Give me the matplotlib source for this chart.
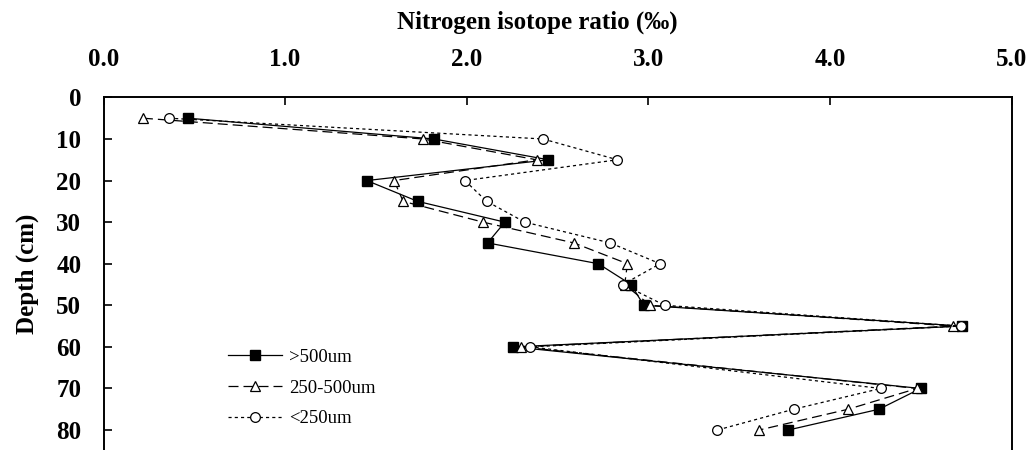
import matplotlib
matplotlib.use("Agg")
import matplotlib.pyplot as plt

depth = [5, 10, 15, 20, 25, 30, 35, 40, 45, 50, 55, 60, 70, 75, 80]
coarse = [0.465, 1.82, 2.45, 1.45, 1.73, 2.21, 2.115, 2.725, 2.905, 2.975, 4.73, 2.256, 4.50, 4.27, 3.77]
medium = [0.217, 1.76, 2.385, 1.60, 1.65, 2.09, 2.59, 2.885, 2.87, 3.01, 4.68, 2.297, 4.48, 4.10, 3.61]
fine = [0.36, 2.42, 2.83, 1.99, 2.11, 2.32, 2.79, 3.065, 2.86, 3.09, 4.72, 2.35, 4.28, 3.80, 3.38]
labels = [">500um", "250-500um", "<250um"]
xticks = [0, 1, 2, 3, 4, 5]
xticklabels = ["0.0", "1.0", "2.0", "3.0", "4.0", "5.0"]
yticks = [0, 10, 20, 30, 40, 50, 60, 70, 80]

plt.rcParams['font.family'] = ['Liberation Serif', 'DejaVu Serif']

W, H = 1033, 450
fig = plt.figure(figsize=(W / 100, H / 100), dpi=100)
ax = fig.add_axes([103.5 / W, 0.0, (1011.5 - 103.5) / W, (450 - 97.4) / H])

ax.plot(coarse, depth, color='black', lw=0.9, ls='-', marker='s', ms=7,
        mfc='black', mec='black', label=labels[0])
ax.plot(medium, depth, color='black', lw=0.9, ls=(0, (8, 4)), marker='^', ms=7,
        mfc='white', mec='black', mew=0.9, label=labels[1])
ax.plot(fine, depth, color='black', lw=0.9, ls=(0, (2.5, 2.5)), marker='o', ms=7,
        mfc='white', mec='black', mew=0.9, label=labels[2])

ax.set_xlim(0, 5)
ax.set_ylim(84.8, 0)
ax.set_xticks(xticks)
ax.set_xticklabels(xticklabels)
ax.set_yticks(yticks)
ax.xaxis.tick_top()
ax.xaxis.set_label_position('top')
ax.tick_params(axis='x', direction='in', length=6, width=1.2, pad=19,
               labelsize=18, top=True, bottom=False)
ax.tick_params(axis='y', direction='in', length=5.5, width=1.2, pad=16,
               labelsize=18, right=False)
for lab in ax.get_xticklabels() + ax.get_yticklabels():
    lab.set_fontweight('bold')

ax.set_xlabel("Nitrogen isotope ratio (\u2030)", fontsize=18, fontweight='bold', labelpad=14)
ax.xaxis.label.set_x(0.478)
ax.set_ylabel("Depth (cm)", fontsize=18, fontweight='bold', labelpad=12)

for s in ['top', 'left', 'right']:
    ax.spines[s].set_linewidth(1.4)
ax.spines['bottom'].set_visible(False)

leg = ax.legend(loc='upper left', bbox_to_anchor=(0.118, 0.335), frameon=False,
                fontsize=13.5, handlelength=2.9, labelspacing=0.72, handletextpad=0.4)

fig.savefig("out.png", dpi=100)
